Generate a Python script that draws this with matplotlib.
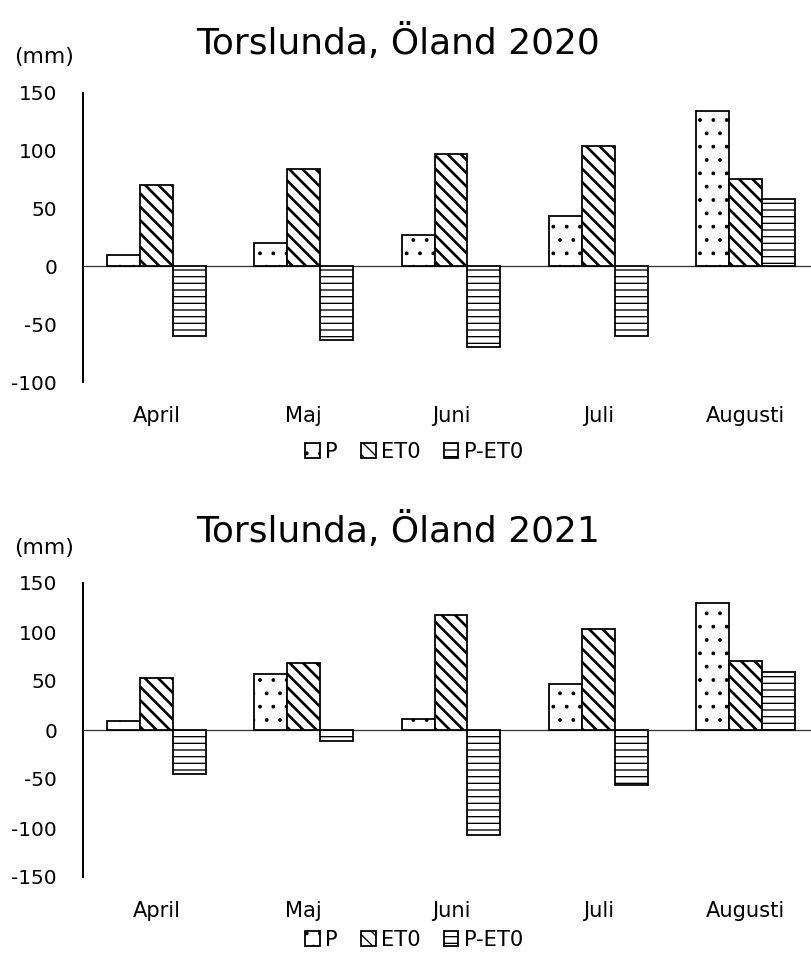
import matplotlib
matplotlib.use("Agg")
import matplotlib.pyplot as plt
import numpy as np

months = ["April", "Maj", "Juni", "Juli", "Augusti"]
series = ["P", "ET0", "P-ET0"]
p_2020 = [10, 20, 27, 44, 134]
et0_2020 = [70, 84, 97, 104, 76]
diff_2020 = [-60, -64, -70, -60, 58]
p_2021 = [9, 57, 11, 47, 130]
et0_2021 = [53, 68, 117, 103, 70]
diff_2021 = [-45, -11, -107, -56, 59]
yticks_2020 = [-100, -50, 0, 50, 100, 150]
yticks_2021 = [-150, -100, -50, 0, 50, 100, 150]

DPI = 80
W, H = 811, 955

def px(v):
    return v * 72.0 / DPI

plt.rcParams['font.family'] = ['DejaVu Sans']

fig = plt.figure(figsize=(W / DPI, H / DPI), dpi=DPI)

hatches = ['.', '\\\\', '--']
hatch_lw = [1.0, 2.4, 1.2]

def draw_panel(top_px, bot_px, data, yticks, title, title_y, mm_y, leg_y):
    left = 83 / W
    right = 819 / W
    ax = fig.add_axes([left, 1 - bot_px / H, right - left, (bot_px - top_px) / H])
    x = np.arange(len(months))
    w = 0.224
    for i, (vals, h, hl) in enumerate(zip(data, hatches, hatch_lw)):
        plt.rcParams['hatch.linewidth'] = hl
        ax.bar(x + (i - 1) * w, vals, width=w, facecolor='white', edgecolor='black',
               linewidth=1.6, hatch=h, label=series[i], zorder=2)
    ax.set_xlim(-0.5, len(months) - 0.5)
    ax.set_ylim(yticks[0], yticks[-1])
    ax.set_yticks(yticks)
    ax.set_yticklabels([str(t) for t in yticks], fontsize=px(20))
    ax.set_xticks(x)
    ax.set_xticklabels(months, fontsize=px(21))
    ax.tick_params(axis='both', length=0)
    ax.tick_params(axis='y', pad=px(26))
    ax.tick_params(axis='x', pad=px(24))
    for s in ['top', 'right', 'bottom']:
        ax.spines[s].set_visible(False)
    ax.spines['left'].set_linewidth(px(2))
    ax.axhline(0, color='#333333', linewidth=px(1.3), zorder=1)
    fig.text(398 / W, 1 - title_y / H, title, fontsize=px(36), ha='center', va='center')
    fig.text(14 / W, 1 - mm_y / H, "(mm)", fontsize=px(22), ha='left', va='center')
    ax.legend(loc='center', bbox_to_anchor=(414 / W, 1 - leg_y / H),
              bbox_transform=fig.transFigure, ncol=3, frameon=False,
              fontsize=px(21), handlelength=0.7, handleheight=0.7,
              handletextpad=0.25, columnspacing=1.1, borderpad=0)
    return ax

draw_panel(93, 382, [p_2020, et0_2020, diff_2020], yticks_2020,
           "Torslunda, Öland 2020", 42, 57, 452)
draw_panel(583, 877, [p_2021, et0_2021, diff_2021], yticks_2021,
           "Torslunda, Öland 2021", 530, 548, 940)

fig.savefig("out.png", dpi=DPI)
